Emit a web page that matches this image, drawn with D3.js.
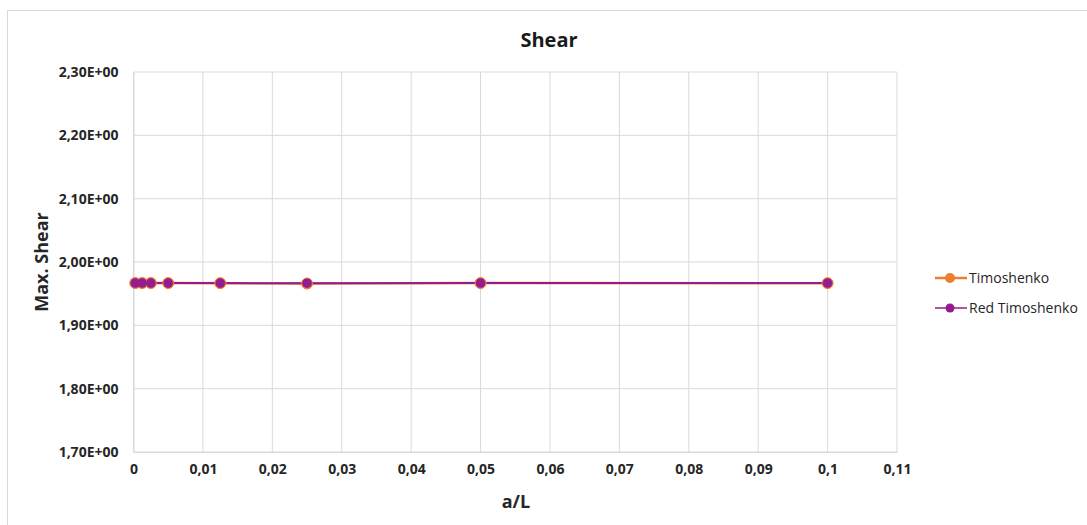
<!DOCTYPE html>
<html><head><meta charset="utf-8">
<script src="https://cdnjs.cloudflare.com/ajax/libs/d3/7.8.5/d3.min.js"></script>
<style>body{margin:0;background:#fff;} svg{display:block;} text{font-family:"Open Sans",sans-serif;}</style>
</head><body><svg id="c" width="1087" height="525"></svg>
<script>
const xValues = [0.00025, 0.00125, 0.0025, 0.005, 0.0125, 0.025, 0.05, 0.1];
const timoshenko = [1.9668, 1.9668, 1.9668, 1.9667, 1.9666, 1.9660, 1.9667, 1.9666];
const redTimoshenko = [1.9668, 1.9668, 1.9668, 1.9667, 1.9667, 1.9665, 1.9668, 1.9667];
const xTicks = [0,0.01,0.02,0.03,0.04,0.05,0.06,0.07,0.08,0.09,0.1,0.11];
const xTickLabels = ["0","0,01","0,02","0,03","0,04","0,05","0,06","0,07","0,08","0,09","0,1","0,11"];
const yTicks = [1.7,1.8,1.9,2.0,2.1,2.2,2.3];
const yTickLabels = ["1,70E+00","1,80E+00","1,90E+00","2,00E+00","2,10E+00","2,20E+00","2,30E+00"];
const seriesNames = ["Timoshenko","Red Timoshenko"];
const colors = ["#ED7D31","#941C90"];

const svg = d3.select("#c");
svg.append("rect").attr("x",7.5).attr("y",10.5).attr("width",1090).attr("height",530)
  .attr("fill","#fff").attr("stroke","#d9d9d9").attr("stroke-width",1);

const L=133.5,R=897,T=72,B=452;
const x = d3.scaleLinear().domain([0,0.11]).range([L,R]);
const y = d3.scaleLinear().domain([1.7,2.3]).range([B,T]);

// gridlines
svg.append("g").selectAll("line").data(xTicks).join("line")
  .attr("x1",d=>x(d)).attr("x2",d=>x(d)).attr("y1",T).attr("y2",B)
  .attr("stroke","#d9d9d9").attr("stroke-width",1);
svg.append("g").selectAll("line").data(yTicks).join("line")
  .attr("x1",L).attr("x2",R).attr("y1",d=>y(d)).attr("y2",d=>y(d))
  .attr("stroke","#d9d9d9").attr("stroke-width",1);

// axes
const xa = svg.append("g").attr("transform",`translate(0,${B})`)
  .call(d3.axisBottom(x).tickValues(xTicks).tickFormat((d,i)=>xTickLabels[i]).tickSize(0).tickPadding(12));
xa.select(".domain").attr("stroke","#d9d9d9");
xa.selectAll("text").attr("font-size","14px").attr("font-weight","bold").attr("fill","#262626");
const ya = svg.append("g").attr("transform",`translate(${L},0)`)
  .call(d3.axisLeft(y).tickValues(yTicks).tickFormat((d,i)=>yTickLabels[i]).tickSize(0).tickPadding(15));
ya.select(".domain").attr("stroke","#d9d9d9");
ya.selectAll("text").attr("font-size","14px").attr("font-weight","bold").attr("fill","#262626");

// titles
svg.append("text").attr("x",549).attr("y",47).attr("text-anchor","middle")
  .attr("font-size","20px").attr("font-weight","bold").attr("fill","#1a1a1a").text("Shear");
svg.append("text").attr("x",516).attr("y",508).attr("text-anchor","middle")
  .attr("font-size","18px").attr("font-weight","bold").attr("fill","#262626").text("a/L");
svg.append("text").attr("transform","translate(48,262) rotate(-90)").attr("text-anchor","middle")
  .attr("font-size","18px").attr("font-weight","bold").attr("fill","#262626").text("Max. Shear");

// series
const line = d3.line().x((d,i)=>x(xValues[i])).y(d=>y(d));
const data = [timoshenko, redTimoshenko];
const lw = [2.5,2];
data.forEach((s,k)=>{
  svg.append("path").datum(s).attr("d",line).attr("fill","none")
    .attr("stroke",colors[k]).attr("stroke-width",lw[k]);
});
data.forEach((s,k)=>{
  svg.append("g").selectAll("circle").data(s).join("circle")
    .attr("cx",(d,i)=>x(xValues[i])).attr("cy",d=>y(d)).attr("r",k===0?5.5:4.8)
    .attr("fill",colors[k]).attr("stroke",k===0?colors[0]:"none");
});

// legend
const lg = svg.append("g");
[278,308].forEach((ly,k)=>{
  lg.append("line").attr("x1",935).attr("x2",967).attr("y1",ly).attr("y2",ly)
    .attr("stroke",colors[k]).attr("stroke-width",k===0?2.5:1.5);
  lg.append("circle").attr("cx",950).attr("cy",ly).attr("r",k===0?5:4.5).attr("fill",colors[k]);
  lg.append("text").attr("x",969).attr("y",ly+5).attr("font-size","14px").attr("fill","#262626").text(seriesNames[k]);
});
</script></body></html>
